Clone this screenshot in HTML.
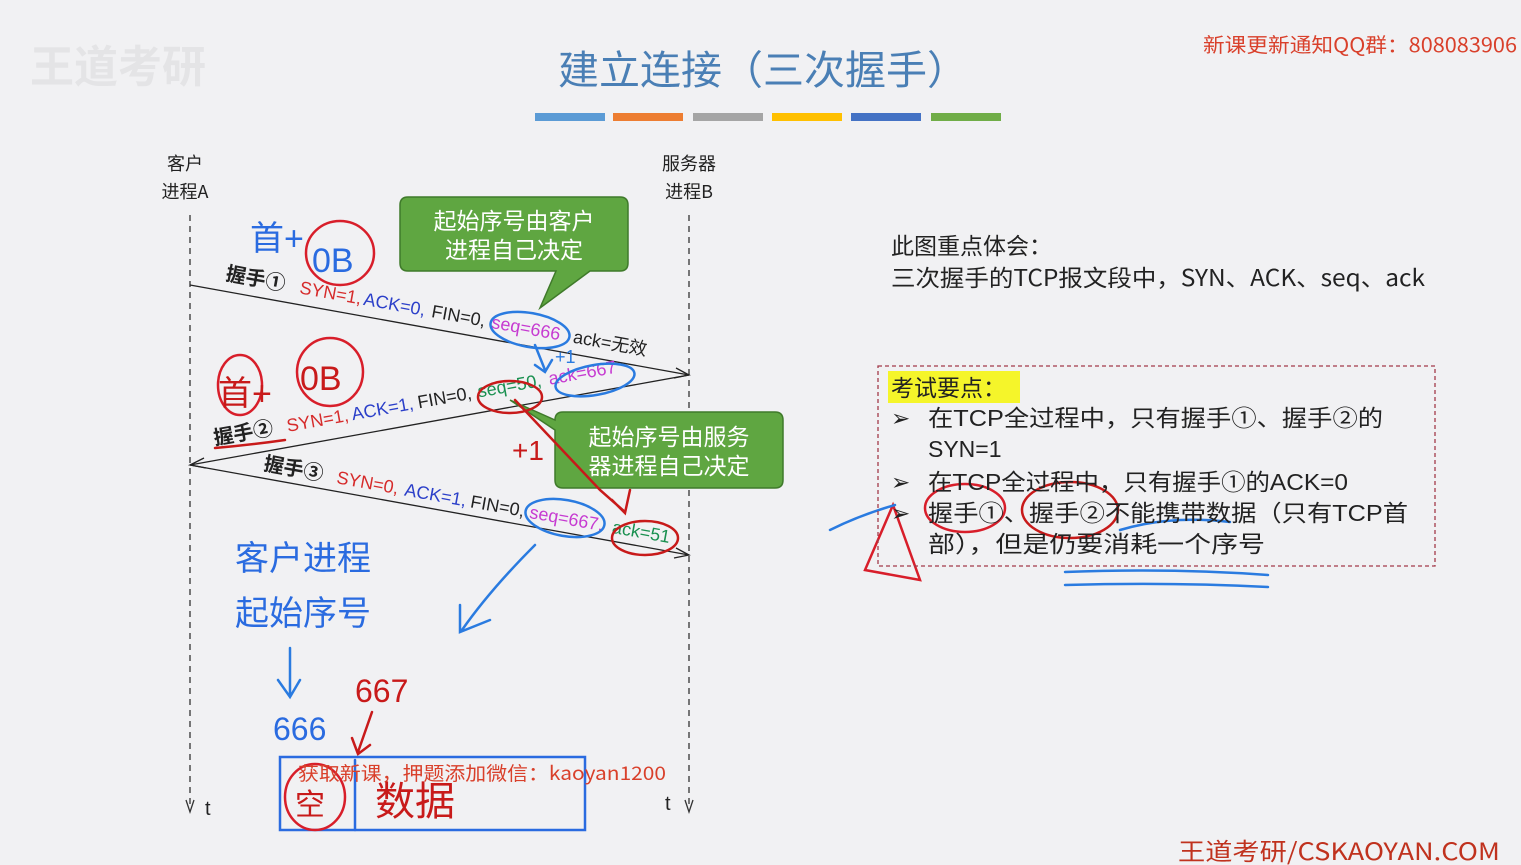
<!DOCTYPE html>
<html><head><meta charset="utf-8"><style>
html,body{margin:0;padding:0;background:#f1f1f3;}
svg{display:block}
text{font-family:"Liberation Sans","Noto Sans CJK SC",sans-serif;}
.cjk{font-family:"Noto Sans CJK SC","Liberation Sans",sans-serif;}
</style></head><body>
<svg width="1521" height="865" viewBox="0 0 1521 865" xmlns="http://www.w3.org/2000/svg">
<rect width="1521" height="865" fill="#f1f1f3"/>
<text x="30" y="82" font-size="44" fill="#e4e4e6" class="cjk" font-weight="bold">王道考研</text>
<text x="558" y="84" font-size="40" fill="#4a7fb5" class="cjk" textLength="410" lengthAdjust="spacingAndGlyphs">建立连接（三次握手）</text>
<text x="1203" y="52" font-size="20" fill="#d9402b" class="cjk" textLength="314" lengthAdjust="spacingAndGlyphs">新课更新通知QQ群：808083906</text>
<g>
<rect x="535" y="113" width="70" height="8" fill="#5b9bd5"/>
<rect x="613" y="113" width="70" height="8" fill="#ed7d31"/>
<rect x="693" y="113" width="70" height="8" fill="#a5a5a5"/>
<rect x="772" y="113" width="70" height="8" fill="#ffc000"/>
<rect x="851" y="113" width="70" height="8" fill="#4472c4"/>
<rect x="931" y="113" width="70" height="8" fill="#70ad47"/>
</g>
<text x="185" y="170" font-size="18" fill="#222" text-anchor="middle" class="cjk">客户</text>
<text x="185" y="198" font-size="18" fill="#222" text-anchor="middle" class="cjk">进程A</text>
<text x="689" y="170" font-size="18" fill="#222" text-anchor="middle" class="cjk">服务器</text>
<text x="689" y="198" font-size="18" fill="#222" text-anchor="middle" class="cjk">进程B</text>
<line x1="190" y1="215" x2="190" y2="805" stroke="#333" stroke-width="1.3" stroke-dasharray="6,5"/>
<line x1="689" y1="215" x2="689" y2="805" stroke="#333" stroke-width="1.3" stroke-dasharray="6,5"/>
<path d="M186,800 L190,812 L194,800" fill="none" stroke="#333" stroke-width="1.3"/>
<path d="M685,800 L689,812 L693,800" fill="none" stroke="#333" stroke-width="1.3"/>
<text x="205" y="815" font-size="20" fill="#222">t</text>
<text x="665" y="810" font-size="20" fill="#222">t</text>
<line x1="190" y1="285" x2="689" y2="375" stroke="#222" stroke-width="1.3"/>
<path d="M676,368 L689,375 L674,378" fill="none" stroke="#222" stroke-width="1.3"/>
<line x1="689" y1="375" x2="190" y2="465" stroke="#222" stroke-width="1.3"/>
<path d="M204,458 L190,465 L206,468" fill="none" stroke="#222" stroke-width="1.3"/>
<line x1="190" y1="465" x2="689" y2="555" stroke="#222" stroke-width="1.3"/>
<path d="M676,548 L689,555 L674,558" fill="none" stroke="#222" stroke-width="1.3"/>
<g transform="translate(225,280) rotate(10.2)" font-size="18">
<text class="cjk" font-weight="bold" fill="#222" font-size="20">握手①</text>
<text x="75" fill="#d62b2b">SYN=1,</text>
<text x="140" fill="#2b3fc9">ACK=0,</text>
<text x="209" fill="#222">FIN=0,</text>
<text x="270" fill="#c63ad1">seq=666</text>
<text x="353" fill="#222">ack=<tspan class="cjk">无效</tspan></text>
</g>
<g transform="translate(215,445) rotate(-10.2)" font-size="18">
<text class="cjk" font-weight="bold" fill="#222" font-size="20">握手②</text>
<text x="74" fill="#d62b2b">SYN=1,</text>
<text x="140" fill="#2b3fc9">ACK=1,</text>
<text x="207" fill="#222">FIN=0,</text>
<text x="268" fill="#1a9050">seq=50,</text>
<text x="340" fill="#c63ad1">ack=667</text>
</g>
<g transform="translate(263,470) rotate(10.2)" font-size="18">
<text class="cjk" font-weight="bold" fill="#222" font-size="20">握手③</text>
<text x="74" fill="#d62b2b">SYN=0,</text>
<text x="143" fill="#2b3fc9">ACK=1,</text>
<text x="210" fill="#222">FIN=0,</text>
<text x="270" fill="#c63ad1">seq=667,</text>
<text x="354" fill="#1a9050">ack=51</text>
</g>
<path d="M408,197 H620 Q628,197 628,205 V263 Q628,271 620,271 H590 L540,308 L556,271 H408 Q400,271 400,263 V205 Q400,197 408,197 Z" fill="#5fa641" stroke="#3f7a2a" stroke-width="1.5"/>
<text x="514" y="229" font-size="23" fill="#fff" text-anchor="middle" class="cjk">起始序号由客户</text>
<text x="514" y="258" font-size="23" fill="#fff" text-anchor="middle" class="cjk">进程自己决定</text>
<path d="M563,412 H775 Q783,412 783,420 V480 Q783,488 775,488 H563 Q555,488 555,480 V430 L510,400 L555,420 Q555,412 563,412 Z" fill="#5fa641" stroke="#3f7a2a" stroke-width="1.5"/>
<text x="669" y="445" font-size="23" fill="#fff" text-anchor="middle" class="cjk">起始序号由服务</text>
<text x="669" y="474" font-size="23" fill="#fff" text-anchor="middle" class="cjk">器进程自己决定</text>
<g fill="none" stroke-width="2.5" stroke-linecap="round">
<ellipse cx="340" cy="253" rx="34" ry="32" stroke="#d81e2a"/>
<ellipse cx="330" cy="372" rx="33" ry="34" stroke="#d81e2a"/>
<ellipse cx="240" cy="385" rx="22" ry="30" stroke="#d81e2a"/>
<ellipse cx="530" cy="330" rx="40" ry="17" stroke="#2a7be0" transform="rotate(10 530 330)"/>
<ellipse cx="595" cy="380" rx="40" ry="15" stroke="#2a7be0" transform="rotate(-10 595 380)"/>
<ellipse cx="510" cy="397" rx="32" ry="16" stroke="#c81a1a"/>
<ellipse cx="565" cy="518" rx="40" ry="18" stroke="#2a7be0" transform="rotate(10 565 518)"/>
<ellipse cx="645" cy="538" rx="33" ry="17" stroke="#c81a1a"/>
<path d="M215,448 Q250,445 285,440" stroke="#c81a1a"/>
<path d="M515,400 L600,490 L625,512 M612,500 L625,513 L630,490" stroke="#c81a1a"/>
<path d="M535,345 L545,370 M535,365 L545,372 L552,360" stroke="#2a7be0"/>
<path d="M535,545 Q490,590 462,630 M460,605 L460,632 L490,620" stroke="#2a7be0"/>
<path d="M290,648 L290,695 M278,680 L290,697 L300,680" stroke="#2a7be0"/>
<path d="M372,712 L358,752 M352,738 L358,754 L370,745" stroke="#c81a1a"/>
<rect x="280" y="757" width="305" height="73" stroke="#2a6be0"/>
<line x1="355" y1="760" x2="355" y2="830" stroke="#2a6be0"/>
<ellipse cx="315" cy="797" rx="30" ry="33" stroke="#d81e2a"/>
<ellipse cx="965" cy="508" rx="40" ry="24" stroke="#d81e2a"/>
<ellipse cx="1070" cy="510" rx="48" ry="28" stroke="#c81a1a"/>
<path d="M893,505 L865,570 L920,580 Z" stroke="#d81e2a"/>
<path d="M830,530 Q860,515 895,505" stroke="#2a7be0"/>
<path d="M1065,572 Q1170,568 1268,575 M1065,585 Q1170,582 1268,587" stroke="#2a7be0"/>
<path d="M1120,530 Q1170,515 1230,522" stroke="#2a7be0"/>
</g>
<g class="cjk" font-size="34" fill="#2a6be0">
<text x="250" y="250">首+</text>
<text x="312" y="272">0B</text>
<text x="235" y="570">客户进程</text>
<text x="235" y="625">起始序号</text>
<text x="273" y="740" font-size="32">666</text>
</g>
<g class="cjk" font-size="34" fill="#c81a1a">
<text x="218" y="405">首+</text>
<text x="300" y="390">0B</text>
<text x="512" y="460" font-size="28">+1</text>
<text x="355" y="702" font-size="32">667</text>
<text x="295" y="815" font-size="30">空</text>
<text x="375" y="815" font-size="40">数据</text>
</g>
<text x="555" y="363" font-size="18" fill="#2a7be0">+1</text>
<text x="298" y="780" font-size="19" fill="#d9402b" class="cjk" textLength="368" lengthAdjust="spacingAndGlyphs">获取新课，押题添加微信：kaoyan1200</text>
<text x="891" y="254" font-size="23" fill="#222" class="cjk">此图重点体会：</text>
<text x="891" y="286" font-size="23" fill="#222" class="cjk" textLength="534" lengthAdjust="spacingAndGlyphs">三次握手的TCP报文段中，SYN、ACK、seq、ack</text>
<rect x="878" y="366" width="557" height="200" fill="none" stroke="#a23a4a" stroke-width="1.3" stroke-dasharray="4,3"/>
<rect x="888" y="371" width="132" height="32" fill="#f5f52a"/>
<g font-size="23" fill="#222" class="cjk">
<text x="891" y="396">考试要点：</text>
<text x="891" y="426">➢</text>
<text x="928" y="426" textLength="455" lengthAdjust="spacingAndGlyphs">在TCP全过程中，只有握手①、握手②的</text>
<text x="928" y="457">SYN=1</text>
<text x="891" y="490">➢</text>
<text x="928" y="490" textLength="420" lengthAdjust="spacingAndGlyphs">在TCP全过程中，只有握手①的ACK=0</text>
<text x="891" y="521">➢</text>
<text x="928" y="521" textLength="480" lengthAdjust="spacingAndGlyphs">握手①、握手②不能携带数据（只有TCP首</text>
<text x="928" y="552" textLength="337" lengthAdjust="spacingAndGlyphs">部），但是仍要消耗一个序号</text>
</g>
<text x="1178" y="860" font-size="24" fill="#c0321e" class="cjk" textLength="322" lengthAdjust="spacingAndGlyphs">王道考研/CSKAOYAN.COM</text>
</svg>
</body></html>
